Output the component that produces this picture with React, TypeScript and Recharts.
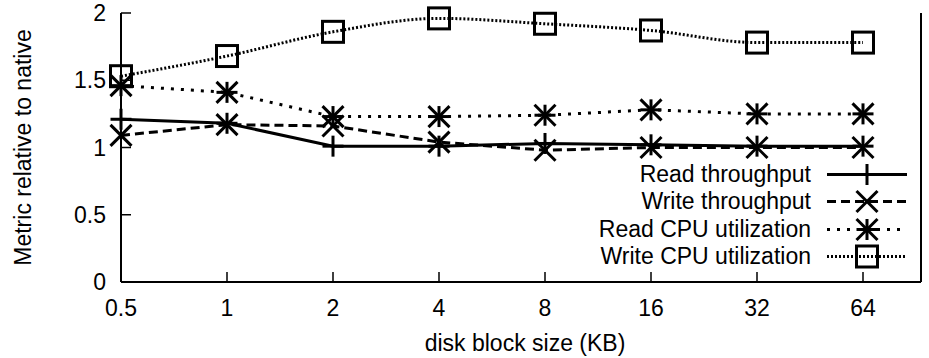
import { LineChart, Line, XAxis, YAxis, Legend, Label } from 'recharts'

const sizes = ['0.5', '1', '2', '4', '8', '16', '32', '64']
const readThroughput = [1.21, 1.18, 1.01, 1.01, 1.03, 1.02, 1.01, 1.01]
const writeThroughput = [1.09, 1.17, 1.16, 1.04, 0.98, 1.0, 1.0, 1.0]
const readCpu = [1.46, 1.41, 1.23, 1.23, 1.24, 1.28, 1.25, 1.25]
const writeCpu = [1.53, 1.68, 1.86, 1.96, 1.92, 1.87, 1.78, 1.78]
const yTicks = [0, 0.5, 1, 1.5, 2]

const FONT = '"Liberation Sans", Arial, Helvetica, sans-serif'
const FS = 23

type MarkerKind = 'plus' | 'cross' | 'star' | 'square'

const SERIES: { key: string; name: string; dash?: string; marker: MarkerKind; curve: 'linear' | 'monotone' }[] = [
  { key: 'readThroughput', name: 'Read throughput', marker: 'plus', curve: 'linear' },
  { key: 'writeThroughput', name: 'Write throughput', dash: '9 5', marker: 'cross', curve: 'linear' },
  { key: 'readCpu', name: 'Read CPU utilization', dash: '3 7', marker: 'star', curve: 'linear' },
  { key: 'writeCpu', name: 'Write CPU utilization', dash: '2 2', marker: 'square', curve: 'monotone' },
]

const data = sizes.map((size, i) => ({
  size,
  readThroughput: readThroughput[i],
  writeThroughput: writeThroughput[i],
  readCpu: readCpu[i],
  writeCpu: writeCpu[i],
}))

function Marker({ kind, cx, cy }: { kind: MarkerKind; cx: number; cy: number }) {
  const s = 10.5
  const p = { stroke: '#000', strokeWidth: 3, fill: 'none' }
  if (kind === 'plus') {
    return (
      <g>
        <line x1={cx - s} y1={cy} x2={cx + s} y2={cy} {...p} />
        <line x1={cx} y1={cy - s} x2={cx} y2={cy + s} {...p} />
      </g>
    )
  }
  if (kind === 'cross') {
    return (
      <g>
        <line x1={cx - s} y1={cy - s} x2={cx + s} y2={cy + s} {...p} />
        <line x1={cx - s} y1={cy + s} x2={cx + s} y2={cy - s} {...p} />
      </g>
    )
  }
  if (kind === 'star') {
    return (
      <g>
        <line x1={cx - s} y1={cy - s} x2={cx + s} y2={cy + s} {...p} />
        <line x1={cx - s} y1={cy + s} x2={cx + s} y2={cy - s} {...p} />
        <line x1={cx - s} y1={cy} x2={cx + s} y2={cy} {...p} />
        <line x1={cx} y1={cy - s} x2={cx} y2={cy + s} {...p} />
      </g>
    )
  }
  return <rect x={cx - s} y={cy - s} width={2 * s} height={2 * s} {...p} />
}

// gnuplot style ticks: drawn inward, labels outside
const BottomTick = (props: any) => {
  const { x, y, payload } = props
  return (
    <g>
      <line x1={x} y1={y} x2={x} y2={y - 10} stroke="#000" strokeWidth={1.5} />
      <text x={x} y={y + 26} textAnchor="middle" dominantBaseline="central" fontSize={FS} fontFamily={FONT} fill="#000">
        {payload.value}
      </text>
    </g>
  )
}

const TopTick = (props: any) => {
  const { x, y } = props
  return <line x1={x} y1={y} x2={x} y2={y + 10} stroke="#000" strokeWidth={1.5} />
}

const LeftTick = (props: any) => {
  const { x, y, payload } = props
  return (
    <g>
      <line x1={x} y1={y} x2={x + 10} y2={y} stroke="#000" strokeWidth={1.5} />
      <text x={x - 15} y={y} textAnchor="end" dominantBaseline="central" fontSize={FS} fontFamily={FONT} fill="#000">
        {payload.value}
      </text>
    </g>
  )
}

const RightTick = (props: any) => {
  const { x, y } = props
  return <line x1={x} y1={y} x2={x - 10} y2={y} stroke="#000" strokeWidth={1.5} />
}

const renderLegend = () => (
  <div style={{ fontFamily: FONT, fontSize: FS, color: '#000' }}>
    {SERIES.map(s => (
      <div key={s.key} style={{ display: 'flex', justifyContent: 'flex-end', alignItems: 'center', height: 27.3, lineHeight: '27px' }}>
        <span style={{ whiteSpace: 'nowrap' }}>{s.name}</span>
        <svg width={80} height={27} style={{ marginLeft: 16, display: 'block' }}>
          <line x1={0} y1={13.5} x2={80} y2={13.5} stroke="#000" strokeWidth={3} strokeDasharray={s.dash} />
          <Marker kind={s.marker} cx={40} cy={13.5} />
        </svg>
      </div>
    ))}
  </div>
)

export default function App() {
  const axisLine = { stroke: '#000', strokeWidth: 2 }
  return (
    <div style={{ position: 'absolute', left: 0, top: 0, background: '#fff' }}>
      <LineChart width={929} height={358} data={data} margin={{ top: 13, right: 4, bottom: 0, left: 0 }}>
        <XAxis
          dataKey="size"
          type="category"
          height={76}
          padding={{ left: 0, right: 58 }}
          axisLine={axisLine}
          tickLine={false}
          tickSize={0}
          tickMargin={0}
          tick={<BottomTick />}
          interval={0}
        >
          <Label
            content={({ viewBox }: any) => (
              <text
                x={viewBox.x + viewBox.width / 2 + 4}
                y={viewBox.y + 61}
                textAnchor="middle"
                dominantBaseline="central"
                fontSize={FS}
                fontFamily={FONT}
                fill="#000"
              >
                disk block size (KB)
              </text>
            )}
          />
        </XAxis>
        <XAxis
          xAxisId="top"
          dataKey="size"
          type="category"
          orientation="top"
          height={0}
          padding={{ left: 0, right: 58 }}
          axisLine={axisLine}
          tickLine={false}
          tickSize={0}
          tickMargin={0}
          tick={<TopTick />}
          interval={0}
        />
        <YAxis
          width={121}
          type="number"
          domain={[0, 2]}
          ticks={yTicks}
          axisLine={axisLine}
          tickLine={false}
          tickSize={0}
          tickMargin={0}
          tick={<LeftTick />}
          interval={0}
        >
          <Label
            content={({ viewBox }: any) => (
              <text
                x={23}
                y={viewBox.y + viewBox.height / 2}
                transform={`rotate(-90 23 ${viewBox.y + viewBox.height / 2})`}
                textAnchor="middle"
                dominantBaseline="central"
                fontSize={FS}
                fontFamily={FONT}
                fill="#000"
              >
                Metric relative to native
              </text>
            )}
          />
        </YAxis>
        <YAxis
          yAxisId="right"
          orientation="right"
          width={4}
          type="number"
          domain={[0, 2]}
          ticks={yTicks}
          axisLine={axisLine}
          tickLine={false}
          tickSize={0}
          tickMargin={0}
          tick={<RightTick />}
          interval={0}
        />
        <Legend
          layout="horizontal"
          verticalAlign="middle"
          align="center"
          content={renderLegend}
          wrapperStyle={{ position: 'absolute', left: 500, top: 161, width: 407, height: 110 }}
        />
        {SERIES.map(s => (
          <Line
            key={s.key}
            dataKey={s.key}
            name={s.name}
            type={s.curve}
            stroke="#000"
            strokeWidth={3}
            strokeDasharray={s.dash}
            isAnimationActive={false}
            dot={(p: any) => <Marker key={`${s.key}-${p.index}`} kind={s.marker} cx={p.cx} cy={p.cy} />}
            activeDot={false}
          />
        ))}
      </LineChart>
    </div>
  )
}
